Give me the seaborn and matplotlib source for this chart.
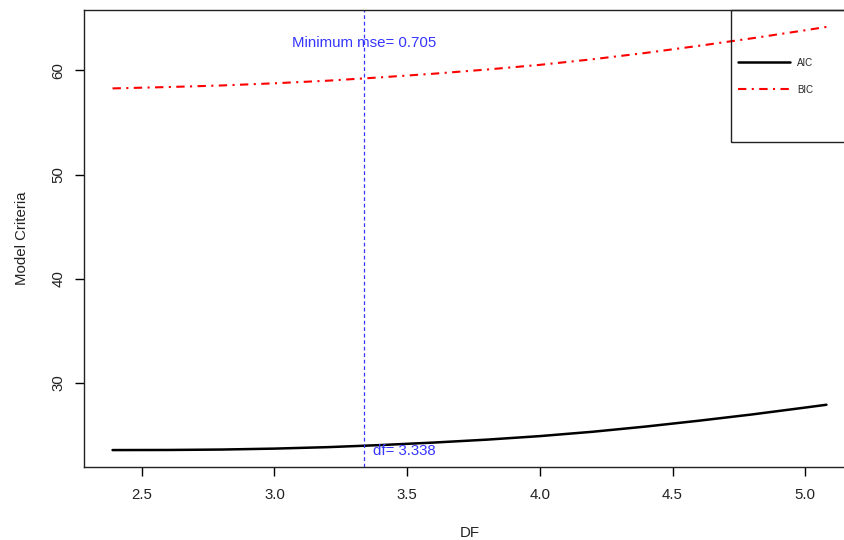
import numpy as np
import pandas as pd
import matplotlib
matplotlib.use('Agg')
import matplotlib.pyplot as plt
import seaborn as sns
from matplotlib.patches import Rectangle

# values
df_values = [2.39, 2.6, 2.8, 3.0, 3.2, 3.4, 3.6, 3.8, 4.0, 4.2, 4.4, 4.6, 4.8, 5.0, 5.08]
aic_values = [23.56, 23.57, 23.61, 23.70, 23.84, 24.04, 24.28, 24.56, 24.90,
              25.32, 25.82, 26.38, 26.98, 27.64, 27.91]
bic_values = [58.27, 58.40, 58.55, 58.76, 59.01, 59.33, 59.68, 60.08, 60.53,
              61.07, 61.68, 62.36, 63.08, 63.85, 64.17]
best_df = 3.338
min_mse = 0.705
x_ticks = [2.5, 3.0, 3.5, 4.0, 4.5, 5.0]
y_ticks = [30, 40, 50, 60]

data = pd.DataFrame({'DF': df_values, 'AIC': aic_values, 'BIC': bic_values})

sns.set_style('ticks')
plt.rcParams['font.family'] = ['Liberation Sans', 'DejaVu Sans']

fig = plt.figure(figsize=(8.44, 5.40), dpi=100)
ax = fig.add_axes([0.09953, 0.13519, 0.91351, 0.84630])

blue = '#3535ff'

sns.lineplot(data=data, x='DF', y='AIC', ax=ax, color='black', linewidth=1.8,
             label='AIC', legend=False)
sns.lineplot(data=data, x='DF', y='BIC', ax=ax, color='red', linewidth=1.5,
             linestyle=(0, (4, 2.6, 1, 2.6)), label='BIC', legend=False)

ax.axvline(best_df, color=blue, linewidth=0.9, linestyle=(0, (3, 2.2)))
ax.text(best_df, 62.6, f'Minimum mse= {min_mse}', color=blue, fontsize=10.8,
        ha='center', va='center')
ax.annotate(f'df= {best_df}', xy=(best_df, 23.46), xytext=(6.5, 0),
            textcoords='offset points', color=blue, fontsize=10.8,
            ha='left', va='center')

# R style padded limits
x_pad = (max(df_values) - min(df_values)) * 0.04
lo = min(aic_values)
hi = max(bic_values)
y_pad = (hi - lo) * 0.04
ax.set_xlim(min(df_values) - x_pad, max(df_values) + x_pad)
ax.set_ylim(lo - y_pad, hi + y_pad)

ax.set_xticks(x_ticks)
ax.set_yticks(y_ticks)
ax.set_xticklabels([f'{t:.1f}' for t in x_ticks])
ax.set_yticklabels([str(t) for t in y_ticks])
ax.tick_params(axis='both', direction='out', length=6.5, width=1, color='black',
               labelsize=10.8, labelcolor='#222222')
ax.tick_params(axis='x', pad=8.5)
ax.tick_params(axis='y', pad=7, labelrotation=90)
for lab in ax.get_yticklabels():
    lab.set_va('center')

for side in ['left', 'right', 'top', 'bottom']:
    ax.spines[side].set_visible(True)
    ax.spines[side].set_color('#222222')
    ax.spines[side].set_linewidth(1.0)

ax.set_xlabel('DF', fontsize=10.8, color='#222222')
ax.set_ylabel('Model Criteria', fontsize=10.8, color='#222222')
ax.xaxis.set_label_coords(0.5, -0.144)
ax.yaxis.set_label_coords(-0.080, 0.5)
ax.xaxis.label.set_va('center')
ax.yaxis.label.set_va('center')

# legend box in the R style, running past the right edge
ax.add_patch(Rectangle((0.839, 0.711), 0.3, 0.289, transform=ax.transAxes,
                       fill=False, edgecolor='#222222', linewidth=1.0,
                       clip_on=False, zorder=5))
ax.legend(loc='center left', bbox_to_anchor=(0.848, 0.8555), frameon=False,
          fontsize=7, borderpad=0, borderaxespad=0, handlelength=5.35,
          handletextpad=0.72, labelspacing=1.75)

fig.savefig('out.png', dpi=100)
